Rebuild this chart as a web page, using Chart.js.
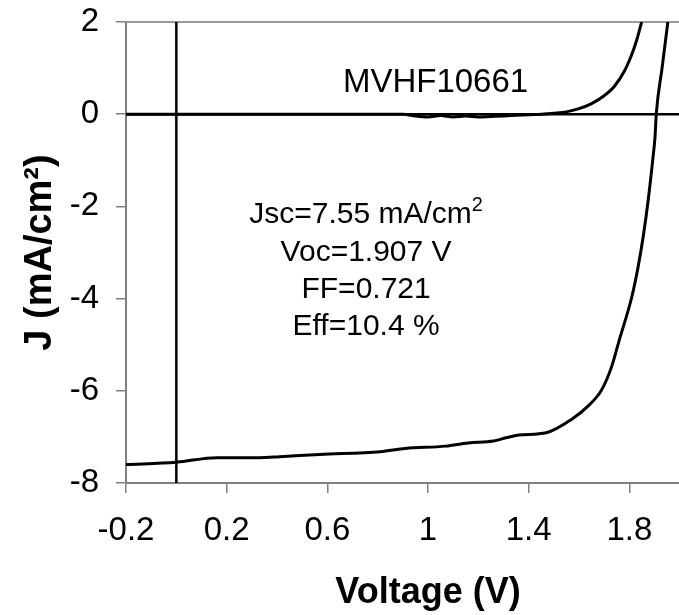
<!DOCTYPE html>
<html>
<head>
<meta charset="utf-8">
<script src="https://cdn.jsdelivr.net/npm/chart.js@4.4.1/dist/chart.umd.min.js"></script>
<style>
  html, body { margin: 0; padding: 0; background: #fff; overflow: hidden; }
  #wrap { width: 679px; height: 615px; overflow: hidden; }
  canvas { display: block; }
</style>
</head>
<body>
<div id="wrap"><canvas id="jvChart" width="760" height="615"></canvas></div>
<script>
// J-V curve of cell MVHF10661, light and dark

const voltageLight = [-0.2, 0, 0.16, 0.33, 0.41, 0.57, 0.81, 0.91, 1.07, 1.16, 1.26, 1.31, 1.36, 1.47,
    1.57, 1.64, 1.69, 1.73, 1.76, 1.81, 1.835, 1.855, 1.875, 1.893, 1.902, 1.907, 1.93, 1.953];
const currentLight = [-7.6, -7.55, -7.45, -7.45, -7.43, -7.38, -7.32, -7.25, -7.2, -7.13, -7.09, -7.02, -6.96, -6.91,
    -6.62, -6.31, -5.98, -5.47, -4.9, -3.96, -3.31, -2.66, -1.86, -0.99, -0.5, 0, 1.0, 2.0];

const voltageDark = [-0.2, 0.9, 0.95, 1.0, 1.05, 1.1, 1.15, 1.2, 1.25, 1.3, 1.4, 1.45, 1.5,
    1.55, 1.6, 1.65, 1.7, 1.74, 1.78, 1.81, 1.83, 1.849];
const currentDark = [0, 0, -0.04, -0.06, -0.03, -0.06, -0.04, -0.06, -0.05, -0.04, -0.01, 0, 0.02,
    0.05, 0.12, 0.23, 0.4, 0.6, 0.93, 1.3, 1.62, 2.0];

// zero reference lines
const zeroLineV = [0, 0];
const zeroLineVJ = [-8, 2];
const zeroLineH = [-0.2, 2.2];
const zeroLineHJ = [0, 0];

const xTicks = [-0.2, 0.2, 0.6, 1, 1.4, 1.8, 2.2];
const yTicks = [-8, -6, -4, -2, 0, 2];

const cellName = 'MVHF10661';
const statsLines = ['Jsc=7.55 mA/cm', 'Voc=1.907 V', 'FF=0.721', 'Eff=10.4 %'];

const FONT = '"Liberation Sans", Arial, Helvetica, sans-serif';

function toPoints(xs, ys) {
    return xs.map((x, i) => ({ x: x, y: ys[i] }));
}

// no automatic label padding, the plot box is fixed by layout.padding
function noScalePadding(axis) {
    axis.paddingTop = 0;
    axis.paddingBottom = 0;
    axis.paddingLeft = 0;
    axis.paddingRight = 0;
}

// text annotations + gray plot border
const annotations = {
    id: 'annotations',
    beforeDatasetsDraw(chart) {
        const { ctx, chartArea } = chart;
        ctx.save();
        ctx.strokeStyle = '#999999';
        ctx.lineWidth = 2;
        ctx.beginPath();
        ctx.moveTo(chartArea.left, chartArea.top);
        ctx.lineTo(chartArea.right, chartArea.top);
        ctx.stroke();
        ctx.restore();
    },
    afterDatasetsDraw(chart) {
        const { ctx, scales } = chart;
        const xs = scales.x, ys = scales.y;
        ctx.save();
        ctx.fillStyle = '#000';
        ctx.textBaseline = 'alphabetic';
        ctx.textAlign = 'center';

        ctx.font = '33px ' + FONT;
        ctx.fillText(cellName, xs.getPixelForValue(1.03), ys.getPixelForValue(0.48));

        const cx = xs.getPixelForValue(0.754);
        const baselines = [-2.36, -3.18, -3.99, -4.79];
        const big = '30px ' + FONT, small = '20px ' + FONT;
        ctx.font = big;
        statsLines.forEach((line, i) => {
            const y = ys.getPixelForValue(baselines[i]);
            if (i === 0) {
                // first line has a superscript 2
                ctx.font = big;
                const w = ctx.measureText(line).width;
                ctx.font = small;
                const ws = ctx.measureText('2').width;
                const left = cx - (w + ws) / 2;
                ctx.textAlign = 'left';
                ctx.font = big;
                ctx.fillText(line, left, y);
                ctx.font = small;
                ctx.fillText('2', left + w, y - 12);
                ctx.textAlign = 'center';
                ctx.font = big;
            } else {
                ctx.fillText(line, cx, y);
            }
        });
        ctx.restore();
    }
};

new Chart(document.getElementById('jvChart'), {
    type: 'scatter',
    data: {
        datasets: [
            {
                label: 'zero V',
                data: toPoints(zeroLineV, zeroLineVJ),
                showLine: true,
                borderColor: '#000',
                borderWidth: 2.5,
                pointRadius: 0
            },
            {
                label: 'zero J',
                data: toPoints(zeroLineH, zeroLineHJ),
                showLine: true,
                borderColor: '#000',
                borderWidth: 2.5,
                pointRadius: 0
            },
            {
                label: 'Dark',
                data: toPoints(voltageDark, currentDark),
                showLine: true,
                borderColor: '#000',
                borderWidth: 3,
                pointRadius: 0,
                cubicInterpolationMode: 'monotone'
            },
            {
                label: 'Light',
                data: toPoints(voltageLight, currentLight),
                showLine: true,
                borderColor: '#000',
                borderWidth: 3,
                pointRadius: 0,
                cubicInterpolationMode: 'monotone'
            }
        ]
    },
    options: {
        responsive: false,
        animation: false,
        layout: { padding: { top: 22, right: 30, bottom: 0, left: 0 } },
        plugins: {
            legend: { display: false },
            tooltip: { enabled: false }
        },
        scales: {
            x: {
                type: 'linear',
                min: -0.2,
                max: 2.2,
                afterBuildTicks(axis) {
                    axis.ticks = xTicks.map(v => ({ value: v }));
                },
                afterFit(axis) {
                    axis.height = 132;
                    noScalePadding(axis);
                },
                border: { color: '#808080', width: 2 },
                grid: { drawOnChartArea: false, tickLength: 10, color: '#808080', lineWidth: 1.5 },
                ticks: {
                    color: '#000',
                    padding: 18,
                    font: { family: FONT, size: 33 },
                    callback: v => String(Math.round(v * 10) / 10)
                },
                title: {
                    display: true,
                    text: 'Voltage (V)',
                    color: '#000',
                    font: { family: FONT, size: 36, weight: 'bold' },
                    padding: { top: 0, bottom: 0 }
                }
            },
            y: {
                type: 'linear',
                min: -8,
                max: 2,
                afterBuildTicks(axis) {
                    axis.ticks = yTicks.map(v => ({ value: v }));
                },
                afterFit(axis) {
                    axis.width = 126;
                    noScalePadding(axis);
                },
                border: { color: '#808080', width: 2 },
                grid: { drawOnChartArea: false, tickLength: 10, color: '#808080', lineWidth: 1.5 },
                ticks: {
                    color: '#000',
                    padding: 17,
                    font: { family: FONT, size: 33 }
                },
                title: {
                    display: true,
                    text: 'J (mA/cm²)',
                    color: '#000',
                    font: { family: FONT, size: 38, weight: 'bold' },
                    padding: { top: 18, bottom: 0 }
                }
            }
        }
    },
    plugins: [annotations]
});
</script>
</body>
</html>
